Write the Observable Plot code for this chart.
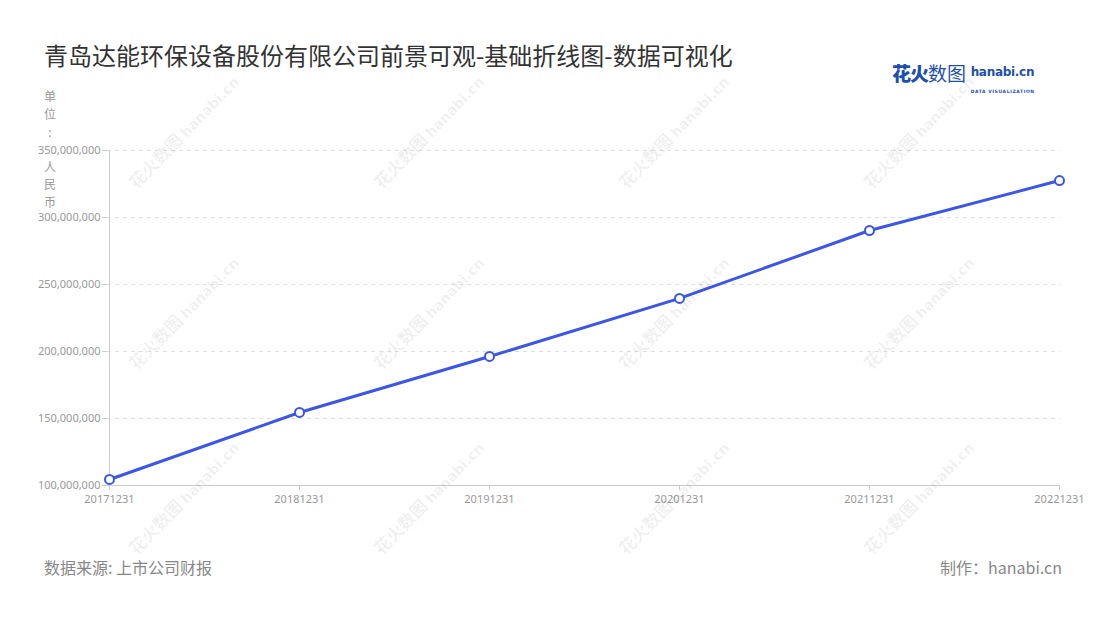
<!DOCTYPE html>
<html>
<head>
<meta charset="utf-8">
<script src="https://cdn.jsdelivr.net/npm/d3@7"></script>
<script src="https://cdn.jsdelivr.net/npm/@observablehq/plot@0.6"></script>
<style>
  html, body { margin: 0; padding: 0; background: #fff; }
  body { font-family: "Noto Sans CJK SC", "Noto Sans", sans-serif; }
  #wrap { position: relative; width: 1100px; height: 620px; overflow: hidden; }
  #title { position: absolute; left: 44px; top: 37px; font-size: 24px; color: #333; white-space: nowrap; }
  .unit { position: absolute; left: 42px; width: 16px; font-size: 12px; color: #999; text-align: center; }
  #unit1 { top: 87px; line-height: 18px; }
  #unit2 { top: 157.5px; line-height: 17.5px; }
  #chart { position: absolute; left: 0; top: 130px; }
  #source { position: absolute; left: 44px; top: 555px; font-size: 16px; color: #888; }
  #maker { position: absolute; right: 38px; top: 555px; font-size: 16px; color: #888; }
  #logo { position: absolute; left: 892px; top: 59px; white-space: nowrap; }
  .wm { position: absolute; transform: translate(-50%, -50%) rotate(-46deg); color: rgba(0,0,0,0.065); font-size: 17px; font-weight: bold; white-space: nowrap; pointer-events: none; }
  .wm .h { font-family: "DejaVu Sans"; font-size: 14px; }
</style>
</head>
<body>
<div id="wrap">
  <div id="title"></div>
  <div id="logo">
    <span style="font-size:19px;font-weight:900;color:#1e4fb0;letter-spacing:-1px;">花火</span><span style="font-size:19px;color:#1e4fb0;">数图</span>
    <span style="display:inline-block;vertical-align:top;margin-left:1px;margin-top:2px;line-height:1;">
      <span style="font-family:'DejaVu Sans';font-size:12px;font-weight:bold;color:#1e4fb0;letter-spacing:-0.3px;">hanabi.cn</span><br>
      <span style="font-size:4.5px;color:#1e4fb0;letter-spacing:0.6px;font-family:'DejaVu Sans';font-weight:bold;">DATA VISUALIZATION</span>
    </span>
  </div>
  <div id="unit1" class="unit"></div>
  <div id="unit2" class="unit"></div>
  <div id="chart"></div>
  <div id="source"></div>
  <div id="maker"></div>
</div>
<script>
const title = "青岛达能环保设备股份有限公司前景可观-基础折线图-数据可视化";
const unitLabel = ["单", "位", ":", "人", "民", "币"];
const sourceText = "数据来源: 上市公司财报";
const makerText = "制作：hanabi.cn";

const dates = ["20171231", "20181231", "20191231", "20201231", "20211231", "20221231"];
const values = [104500000, 154500000, 196300000, 239600000, 290300000, 327600000];
const yTicks = [100000000, 150000000, 200000000, 250000000, 300000000, 350000000];

document.getElementById("title").textContent = title;
document.getElementById("unit1").innerHTML = unitLabel.slice(0, 3).map(c => `<div>${c}</div>`).join("");
document.getElementById("unit2").innerHTML = unitLabel.slice(3).map(c => `<div>${c}</div>`).join("");
document.getElementById("source").textContent = sourceText;
document.getElementById("maker").textContent = makerText;

// watermarks
const wrap = document.getElementById("wrap");
const wmX = [183, 428, 673, 918];
const wmY = [131, 312, 497];
for (const y of wmY) for (const x of wmX) {
  const d = document.createElement("div");
  d.className = "wm";
  d.style.left = x + "px";
  d.style.top = y + "px";
  d.innerHTML = '花火数图 <span class="h">hanabi.cn</span>';
  wrap.appendChild(d);
}

const data = dates.map((d, i) => ({date: d, value: values[i]}));
const blue = "#3b56e8";
const fmt = d3.format(",");

const chart = Plot.plot({
  width: 1100,
  height: 390,
  marginLeft: 107,
  marginRight: 40,
  marginTop: 20,
  marginBottom: 35,
  style: {fontFamily: "'Noto Sans', sans-serif", fontSize: "11px", color: "#999", background: "transparent"},
  x: {type: "point", domain: dates, padding: 0, label: null},
  y: {domain: [100000000, 350000000], label: null},
  marks: [
    Plot.gridY(yTicks.slice(1), {stroke: "#e0e0e0", strokeOpacity: 1, strokeDasharray: "4,4"}),
    Plot.axisY({ticks: yTicks, tickFormat: fmt, tickSize: 5, tickPadding: 2, stroke: "#ccc", color: "#999"}),
    Plot.axisX({tickSize: 5, tickPadding: 5, stroke: "#ccc", color: "#999"}),
    Plot.ruleX([dates[0]], {stroke: "#ccc", strokeWidth: 1}),
    Plot.ruleY([100000000], {stroke: "#ccc", strokeWidth: 1}),
    Plot.line(data, {x: "date", y: "value", stroke: blue, strokeWidth: 3}),
    Plot.dot(data, {x: "date", y: "value", r: 4.5, fill: "white", stroke: blue, strokeWidth: 2})
  ]
});
document.getElementById("chart").appendChild(chart);
</script>
</body>
</html>
